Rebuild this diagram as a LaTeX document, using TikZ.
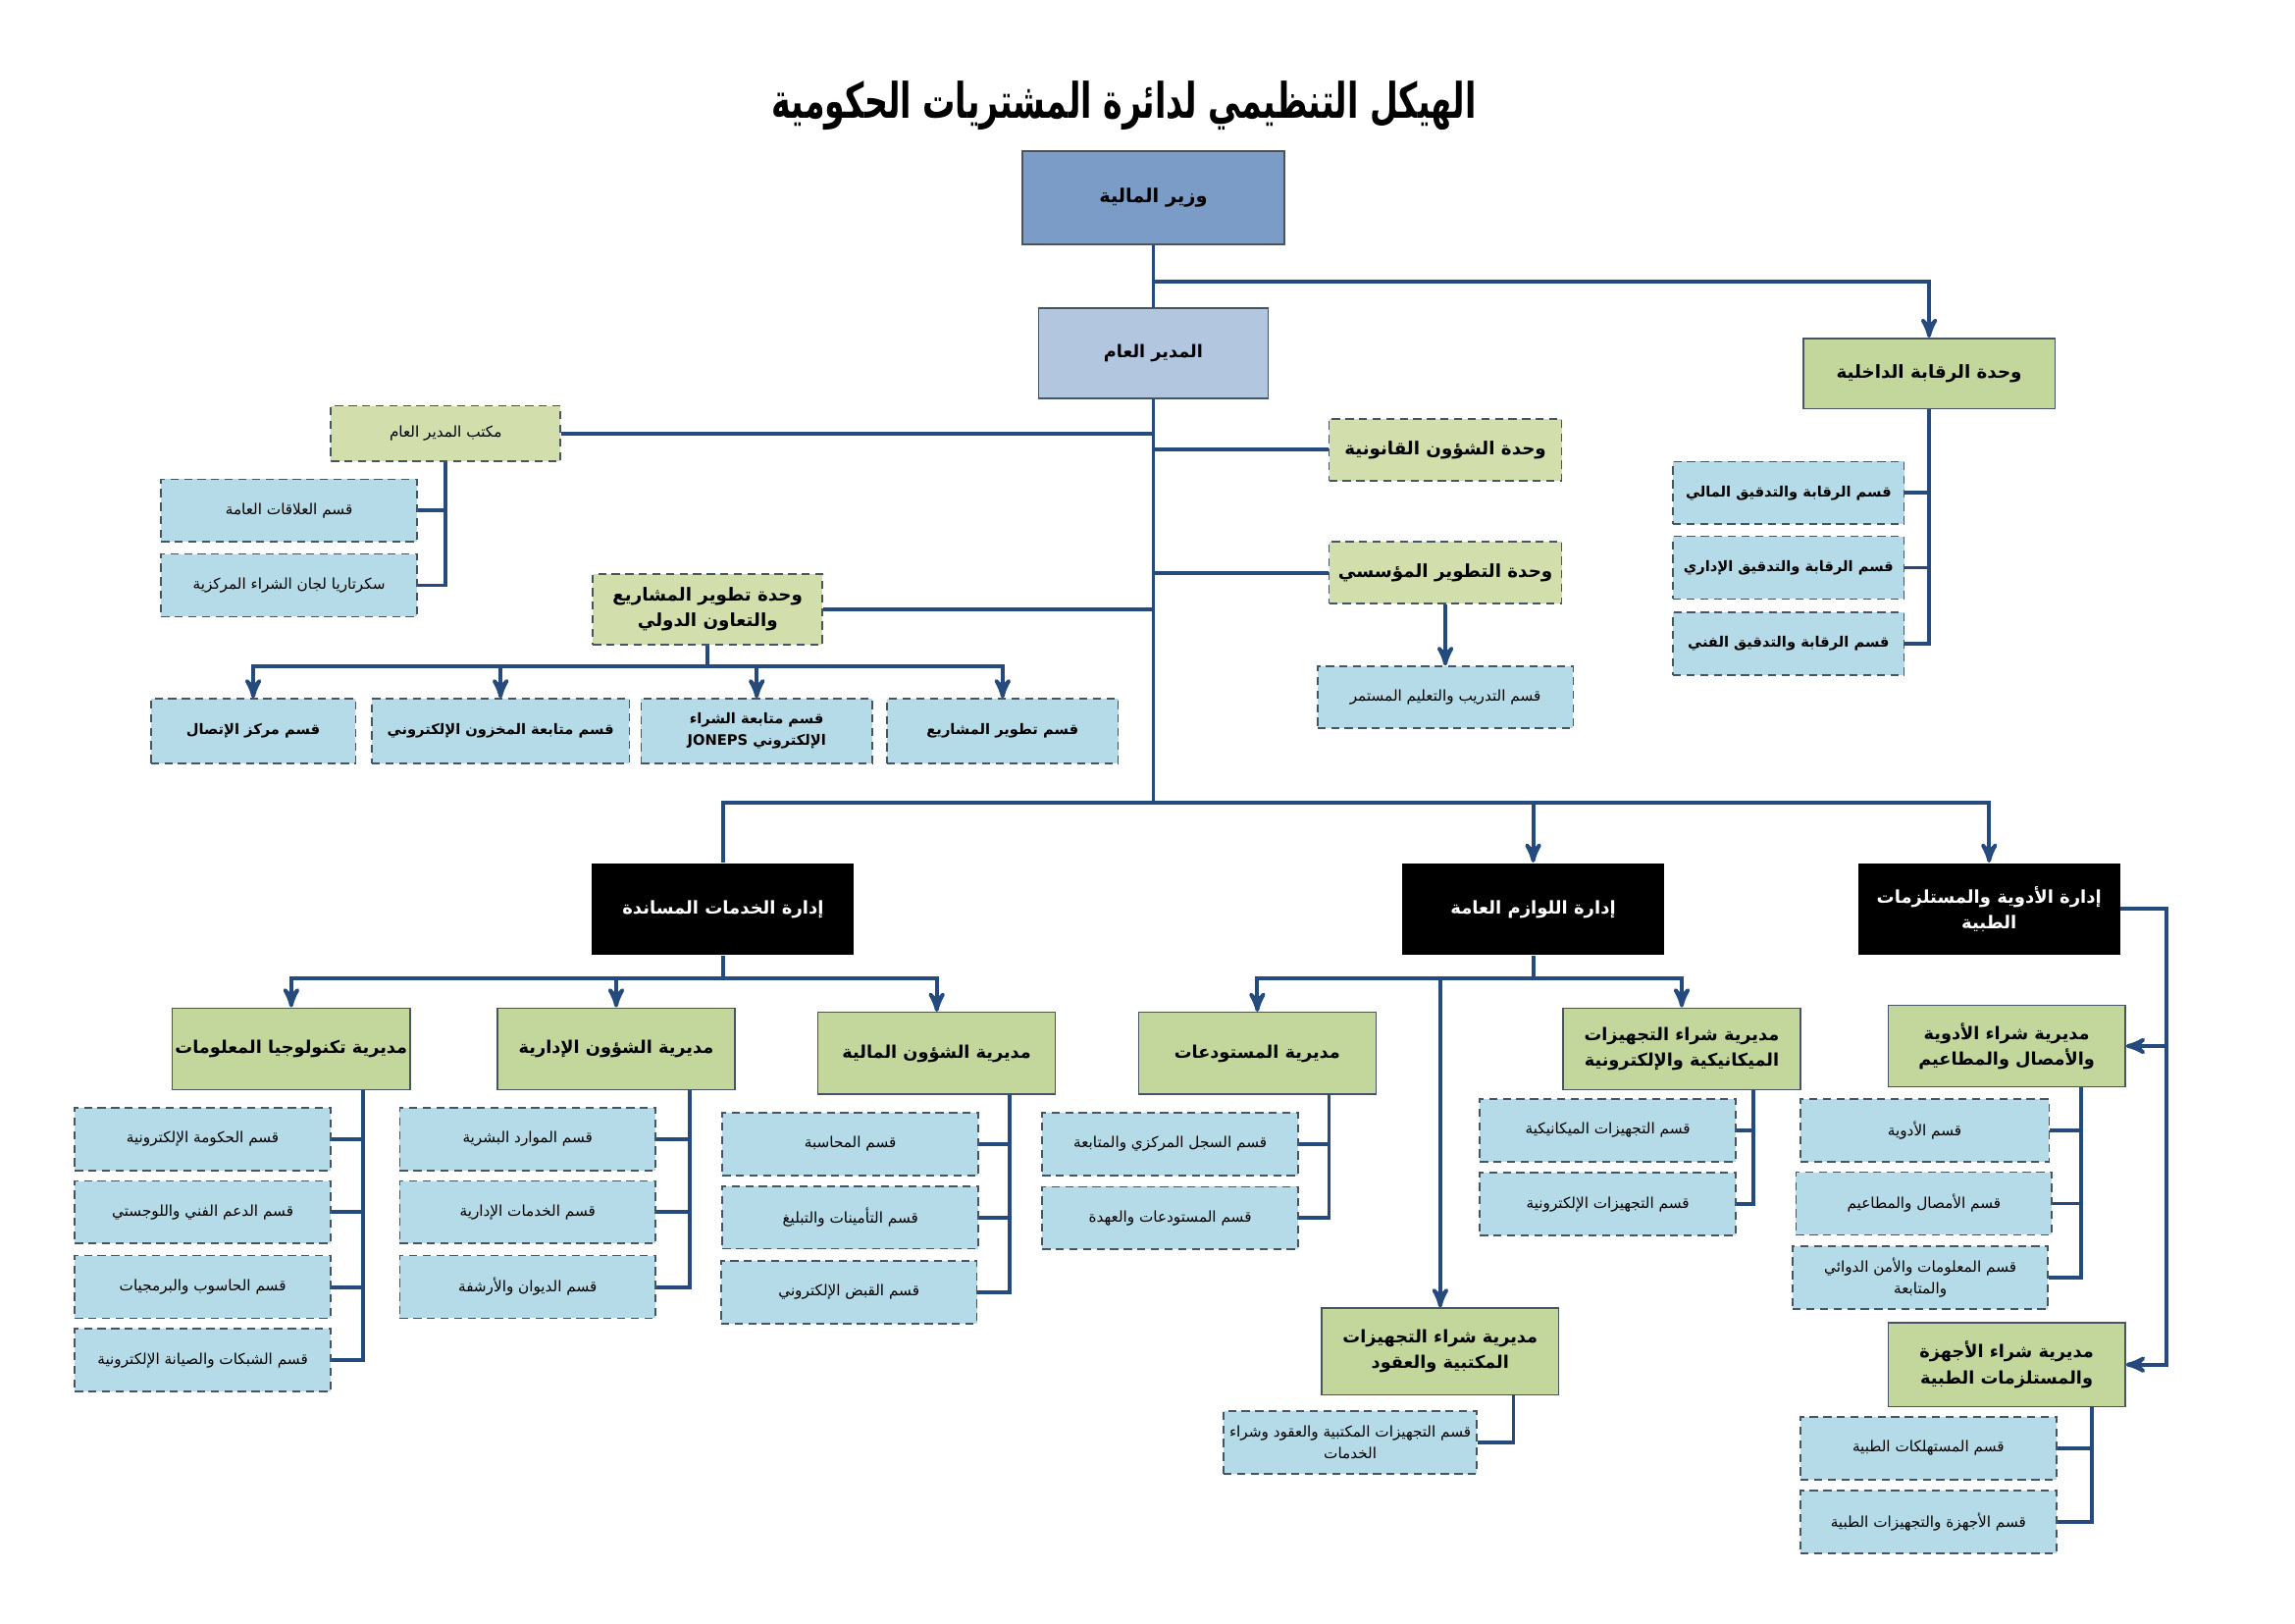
\documentclass[tikz,border=0pt]{standalone}
\usepackage{fontspec}
\usetikzlibrary{arrows}
\TeXXeTstate=1
\newfontfamily\arfont[Script=Arabic]{DejaVu Sans}
\newcommand{\artxt}[1]{\beginR #1\endR}
\definecolor{linkblue}{RGB}{37,74,126}
\definecolor{edgegray}{RGB}{70,85,100}
\definecolor{ministerblue}{RGB}{122,156,198}
\definecolor{dgblue}{RGB}{179,198,224}
\definecolor{dirgreen}{RGB}{195,214,155}
\definecolor{unitgreen}{RGB}{210,222,172}
\definecolor{secblue}{RGB}{180,219,231}

\begin{document}
\begin{tikzpicture}[x=0.01894cm,y=-0.01895cm,>=stealth',
    conn/.style={draw=linkblue,line width=1.4pt},
    top box/.style={rectangle,draw=edgegray,line width=0.6pt,align=center,
      font=\arfont\bfseries\fontsize{7}{10}\selectfont},
    dir box/.style={rectangle,draw=edgegray,line width=0.5pt,fill=dirgreen,align=center,
      minimum width=3.07cm,minimum height=1.06cm,inner sep=1pt,
      font=\arfont\bfseries\fontsize{6.4}{9.5}\selectfont},
    unit box/.style={rectangle,draw=edgegray,densely dashed,line width=0.6pt,fill=unitgreen,
      align=center,minimum width=3.01cm,minimum height=0.80cm,inner sep=1pt,
      font=\arfont\bfseries\fontsize{6.6}{9.5}\selectfont},
    dept box/.style={rectangle,fill=black,text=white,align=center,
      minimum width=3.39cm,minimum height=1.19cm,inner sep=1pt,
      font=\arfont\bfseries\fontsize{6.5}{9.5}\selectfont},
    sec box/.style={rectangle,draw=edgegray,densely dashed,line width=0.6pt,fill=secblue,
      align=center,minimum width=3.31cm,minimum height=0.81cm,inner sep=1pt,
      font=\arfont\fontsize{5.5}{8}\selectfont},
    bold sec/.style={sec box,font=\arfont\bfseries\fontsize{5.3}{8}\selectfont}]
    \useasboundingbox (0,0) rectangle (1568,1108);

    \node[font=\arfont\bfseries\fontsize{12}{16}\selectfont] (title) at (768,72)
      {\scalebox{1}[1.5]{\artxt{الهيكل التنظيمي لدائرة المشتريات الحكومية}}};

    % top of the chart
    \node[top box,fill=ministerblue,minimum width=3.39cm,minimum height=1.21cm] (minister) at (788,135) {\artxt{وزير المالية}};
    \node[top box,fill=dgblue,minimum width=2.97cm,minimum height=1.17cm,font=\arfont\bfseries\fontsize{6.4}{9}\selectfont] (dg) at (788,241) {\artxt{المدير العام}};
    \node[unit box,fill=dirgreen,solid,minimum width=3.26cm,minimum height=0.91cm] (audit) at (1318,255) {\artxt{وحدة الرقابة الداخلية}};
    \node[bold sec,minimum width=2.99cm] (audit1) at (1222,336.5) {\artxt{قسم الرقابة والتدقيق المالي}};
    \node[bold sec,minimum width=2.99cm] (audit2) at (1222,387.5) {\artxt{قسم الرقابة والتدقيق الإداري}};
    \node[bold sec,minimum width=2.99cm] (audit3) at (1222,439.5) {\artxt{قسم الرقابة والتدقيق الفني}};

    % units under the director general
    \node[unit box,minimum width=2.97cm,minimum height=0.72cm,font=\arfont\fontsize{5.5}{8}\selectfont] (office) at (304.5,296) {\artxt{مكتب المدير العام}};
    \node[sec box] (pr) at (197.5,348.5) {\artxt{قسم العلاقات العامة}};
    \node[sec box] (secretariat) at (197.5,399.5) {\artxt{سكرتاريا لجان الشراء المركزية}};
    \node[unit box] (legal) at (987.5,307) {\artxt{وحدة الشؤون القانونية}};
    \node[unit box] (instdev) at (987.5,391) {\artxt{وحدة التطوير المؤسسي}};
    \node[sec box,minimum height=0.80cm] (training) at (987.5,476) {\artxt{قسم التدريب والتعليم المستمر}};
    \node[unit box,minimum width=2.97cm,minimum height=0.91cm] (projdev) at (483.5,416)
      {\artxt{وحدة تطوير المشاريع}\\\artxt{والتعاون الدولي}};
    \node[bold sec,minimum width=2.65cm,minimum height=0.83cm] (callc) at (173,499) {\artxt{قسم مركز الإتصال}};
    \node[bold sec,minimum width=3.33cm,minimum height=0.83cm] (stock) at (342,499) {\artxt{قسم متابعة المخزون الإلكتروني}};
    \node[bold sec,minimum width=2.99cm,minimum height=0.83cm] (joneps) at (517,499)
      {\artxt{قسم متابعة الشراء}\\\artxt{الإلكتروني \beginL JONEPS\endL}};
    \node[bold sec,minimum width=2.99cm,minimum height=0.83cm] (projsec) at (685,499) {\artxt{قسم تطوير المشاريع}};

    % departments
    \node[dept box] (support) at (494,620.5) {\artxt{إدارة الخدمات المساندة}};
    \node[dept box] (supplies) at (1047.5,620.5) {\artxt{إدارة اللوازم العامة}};
    \node[dept box] (meds) at (1359,620.5) {\artxt{إدارة الأدوية والمستلزمات}\\\artxt{الطبية}};

    % support services
    \node[dir box] (it) at (199,716) {\artxt{مديرية تكنولوجيا المعلومات}};
    \node[dir box] (admin) at (421,716) {\artxt{مديرية الشؤون الإدارية}};
    \node[dir box] (finance) at (640,719) {\artxt{مديرية الشؤون المالية}};
    \node[sec box] (it1) at (138.5,777.5) {\artxt{قسم الحكومة الإلكترونية}};
    \node[sec box] (it2) at (138.5,827.5) {\artxt{قسم الدعم الفني واللوجستي}};
    \node[sec box] (it3) at (138.5,878.5) {\artxt{قسم الحاسوب والبرمجيات}};
    \node[sec box] (it4) at (138.5,928.5) {\artxt{قسم الشبكات والصيانة الإلكترونية}};
    \node[sec box] (admin1) at (360.5,777.5) {\artxt{قسم الموارد البشرية}};
    \node[sec box] (admin2) at (360.5,827.5) {\artxt{قسم الخدمات الإدارية}};
    \node[sec box] (admin3) at (360.5,878.5) {\artxt{قسم الديوان والأرشفة}};
    \node[sec box] (fin1) at (581,781) {\artxt{قسم المحاسبة}};
    \node[sec box] (fin2) at (581,831) {\artxt{قسم التأمينات والتبليغ}};
    \node[sec box] (fin3) at (580,882) {\artxt{قسم القبض الإلكتروني}};

    % general supplies
    \node[dir box] (stores) at (859,719) {\artxt{مديرية المستودعات}};
    \node[dir box] (mech) at (1149,716) {\artxt{مديرية شراء التجهيزات}\\\artxt{الميكانيكية والإلكترونية}};
    \node[dir box,minimum height=1.12cm] (officeq) at (984,922.5) {\artxt{مديرية شراء التجهيزات}\\\artxt{المكتبية والعقود}};
    \node[sec box] (stores1) at (799.5,781) {\artxt{قسم السجل المركزي والمتابعة}};
    \node[sec box] (stores2) at (799.5,831.5) {\artxt{قسم المستودعات والعهدة}};
    \node[sec box] (mech1) at (1098.5,771.5) {\artxt{قسم التجهيزات الميكانيكية}};
    \node[sec box] (mech2) at (1098.5,822) {\artxt{قسم التجهيزات الإلكترونية}};
    \node[sec box,minimum width=3.28cm] (officeq1) at (922.5,984.5) {\artxt{قسم التجهيزات المكتبية والعقود وشراء}\\\artxt{الخدمات}};

    % medicines and medical supplies
    \node[dir box] (medsdir) at (1371,714) {\artxt{مديرية شراء الأدوية}\\\artxt{والأمصال والمطاعيم}};
    \node[dir box,minimum height=1.08cm] (devdir) at (1371,931.5) {\artxt{مديرية شراء الأجهزة}\\\artxt{والمستلزمات الطبية}};
    \node[sec box,minimum width=3.22cm] (meds1) at (1315,771.5) {\artxt{قسم الأدوية}};
    \node[sec box] (meds2) at (1314.5,821.5) {\artxt{قسم الأمصال والمطاعيم}};
    \node[sec box,minimum width=3.30cm] (meds3) at (1312,872) {\artxt{قسم المعلومات والأمن الدوائي}\\\artxt{والمتابعة}};
    \node[sec box] (dev1) at (1317.5,988.5) {\artxt{قسم المستهلكات الطبية}};
    \node[sec box] (dev2) at (1317.5,1039) {\artxt{قسم الأجهزة والتجهيزات الطبية}};

    % bus points
    \coordinate (topbus) at (788,192);
    \coordinate (trunk) at (788,548);
    \coordinate (projbus) at (483.5,455);
    \coordinate (supbus) at (494,668);
    \coordinate (genbus) at (1047.5,668);
    \coordinate (itbus) at (248,744);
    \coordinate (adminbus) at (471,744);
    \coordinate (finbus) at (690,747);
    \coordinate (storesbus) at (908,747);
    \coordinate (mechbus) at (1198,744);
    \coordinate (officeqbus) at (1034,952);
    \coordinate (medsbus) at (1422,742);
    \coordinate (devbus) at (1429,960);
    \coordinate (medsside) at (1480,620.5);

    % connectors
    \draw[conn] (minister.south) -- (dg.north);
    \draw[conn,->] (topbus) -| (audit.north);
    \draw[conn] (audit.south) |- (audit3.east);
    \draw[conn] (audit1.east) -- (audit1.east -| audit.south);
    \draw[conn] (audit2.east) -- (audit2.east -| audit.south);
    \draw[conn] (dg.south) -- (trunk);
    \draw[conn] (office.east) -- (office.east -| dg.south);
    \draw[conn] (legal.west) -- (legal.west -| dg.south);
    \draw[conn] (instdev.west) -- (instdev.west -| dg.south);
    \draw[conn] (projdev.east) -- (projdev.east -| dg.south);
    \draw[conn] (office.south) |- (secretariat.east);
    \draw[conn] (pr.east) -- (pr.east -| office.south);
    \draw[conn,->] (instdev.south) -- (training.north);
    \draw[conn] (projdev.south) -- (projbus);
    \draw[conn,->] (projbus) -| (callc.north);
    \draw[conn,->] (projbus) -| (stock.north);
    \draw[conn,->] (projbus) -| (joneps.north);
    \draw[conn,->] (projbus) -| (projsec.north);
    \draw[conn] (trunk) -| (support.north);
    \draw[conn,->] (trunk) -| (supplies.north);
    \draw[conn,->] (trunk) -| (meds.north);

    \draw[conn] (support.south) -- (supbus);
    \draw[conn,->] (supbus) -| (it.north);
    \draw[conn,->] (supbus) -| (admin.north);
    \draw[conn,->] (supbus) -| (finance.north);
    \draw[conn] (itbus) |- (it4.east);
    \draw[conn] (it1.east) -- (it1.east -| itbus);
    \draw[conn] (it2.east) -- (it2.east -| itbus);
    \draw[conn] (it3.east) -- (it3.east -| itbus);
    \draw[conn] (adminbus) |- (admin3.east);
    \draw[conn] (admin1.east) -- (admin1.east -| adminbus);
    \draw[conn] (admin2.east) -- (admin2.east -| adminbus);
    \draw[conn] (finbus) |- (fin3.east);
    \draw[conn] (fin1.east) -- (fin1.east -| finbus);
    \draw[conn] (fin2.east) -- (fin2.east -| finbus);

    \draw[conn] (supplies.south) -- (genbus);
    \draw[conn,->] (genbus) -| (stores.north);
    \draw[conn,->] (genbus) -| (mech.north);
    \draw[conn,->] (genbus) -| (officeq.north);
    \draw[conn] (storesbus) |- (stores2.east);
    \draw[conn] (stores1.east) -- (stores1.east -| storesbus);
    \draw[conn] (mechbus) |- (mech2.east);
    \draw[conn] (mech1.east) -- (mech1.east -| mechbus);
    \draw[conn] (officeqbus) |- (officeq1.east);

    \draw[conn,->] (meds.east) -- (medsside) |- (medsdir.east);
    \draw[conn,->] (medsside) |- (devdir.east);
    \draw[conn] (medsbus) |- (meds3.east);
    \draw[conn] (meds1.east) -- (meds1.east -| medsbus);
    \draw[conn] (meds2.east) -- (meds2.east -| medsbus);
    \draw[conn] (devbus) |- (dev2.east);
    \draw[conn] (dev1.east) -- (dev1.east -| devbus);
\end{tikzpicture}
\end{document}
